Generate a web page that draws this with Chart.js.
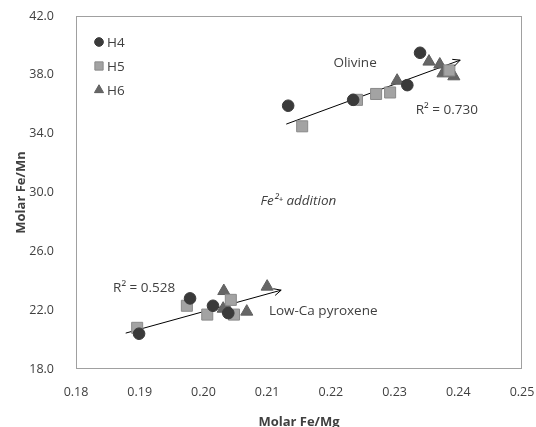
<!DOCTYPE html>
<html>
<head>
<meta charset="utf-8">
<script src="https://cdn.jsdelivr.net/npm/chart.js@4"></script>
<style>
  html, body { margin: 0; padding: 0; background: #fff; }
  #wrap { width: 536px; height: 427px; }
</style>
</head>
<body>
<div id="wrap"><canvas id="grafico"></canvas></div>
<script>
// datos
const h4_x = [0.2133, 0.2235, 0.2320, 0.2340, 0.1899, 0.1979, 0.2015, 0.2039];
const h4_y = [35.9, 36.3, 37.3, 39.5, 20.4, 22.8, 22.3, 21.8];

const h5_x = [0.2155, 0.2241, 0.2271, 0.2293, 0.2386, 0.1896, 0.1974, 0.2006, 0.2043, 0.2048];
const h5_y = [34.5, 36.3, 36.7, 36.8, 38.3, 20.8, 22.3, 21.7, 22.7, 21.7];

const h6_x = [0.2304, 0.2354, 0.2371, 0.2376, 0.2393, 0.2032, 0.2031, 0.2039, 0.2068, 0.2100];
const h6_y = [37.6, 38.9, 38.7, 38.1, 37.9, 23.3, 22.1, 22.0, 21.9, 23.6];

// lineas de tendencia (inicio, fin con flecha)
const olivino_x = [0.2130, 0.2403];
const olivino_y = [34.65, 39.0];
const piroxeno_x = [0.1878, 0.2122];
const piroxeno_y = [20.44, 23.36];

const ticks_x = [0.18, 0.19, 0.20, 0.21, 0.22, 0.23, 0.24, 0.25];
const ticks_y = [18, 22, 26, 30, 34, 38, 42];

const etiquetas = [
    { texto: 'Olivine', x: 0.2238, y: 38.8, italica: false },
    { texto: 'R\u00B2 = 0.730', x: 0.2382, y: 35.6, italica: false },
    { texto: 'Fe\u00B2\u207A addition', x: 0.2149, y: 29.4, italica: true },
    { texto: 'R\u00B2 = 0.528', x: 0.1907, y: 23.5, italica: false },
    { texto: 'Low-Ca pyroxene', x: 0.2188, y: 21.9, italica: false }
];

const FUENTE = "'Open Sans', 'Liberation Sans', sans-serif";
const GRIS_TEXTO = '#404040';

function puntos(xs, ys) {
    return xs.map((x, i) => ({ x: x, y: ys[i] }));
}

const series = [
    { label: 'H4', data: puntos(h4_x, h4_y), pointStyle: 'circle', pointRadius: 5.8,
      backgroundColor: '#3a3a3a', borderColor: '#3a3a3a' },
    { label: 'H5', data: puntos(h5_x, h5_y), pointStyle: 'rect', pointRadius: 7.8,
      backgroundColor: '#a3a3a3', borderColor: '#8a8a8a' },
    { label: 'H6', data: puntos(h6_x, h6_y), pointStyle: 'triangle', pointRadius: 7,
      backgroundColor: '#666666', borderColor: '#5e5e5e' }
];

const tendencias = [
    { label: 'tend1', data: puntos(olivino_x, olivino_y) },
    { label: 'tend2', data: puntos(piroxeno_x, piroxeno_y) }
];

const datasets = series.map(s => Object.assign({ borderWidth: 1, pointHoverRadius: s.pointRadius }, s));
tendencias.forEach(t => {
    datasets.push({
        label: t.label,
        data: t.data,
        showLine: true,
        borderColor: '#000',
        borderWidth: 1,
        pointRadius: 0,
        fill: false
    });
});

// marco, flechas, textos y leyenda
const extras = {
    id: 'extras',
    afterDatasetsDraw(chart) {
        const ctx = chart.ctx;
        const area = chart.chartArea;
        const sx = chart.scales.x;
        const sy = chart.scales.y;
        ctx.save();

        // flechas al final de cada tendencia
        tendencias.forEach(t => {
            const p0 = t.data[0];
            const p1 = t.data[t.data.length - 1];
            const x0 = sx.getPixelForValue(p0.x), y0 = sy.getPixelForValue(p0.y);
            const x1 = sx.getPixelForValue(p1.x), y1 = sy.getPixelForValue(p1.y);
            const ang = Math.atan2(y1 - y0, x1 - x0);
            const largo = 8;
            ctx.strokeStyle = '#000';
            ctx.lineWidth = 1;
            ctx.beginPath();
            ctx.moveTo(x1 - largo * Math.cos(ang - 0.45), y1 - largo * Math.sin(ang - 0.45));
            ctx.lineTo(x1, y1);
            ctx.lineTo(x1 - largo * Math.cos(ang + 0.45), y1 - largo * Math.sin(ang + 0.45));
            ctx.stroke();
        });

        // textos
        ctx.fillStyle = GRIS_TEXTO;
        ctx.textAlign = 'center';
        ctx.textBaseline = 'middle';
        etiquetas.forEach(e => {
            ctx.font = (e.italica ? 'italic ' : '') + '13.5px ' + FUENTE;
            ctx.fillText(e.texto, sx.getPixelForValue(e.x), sy.getPixelForValue(e.y));
        });

        // leyenda
        ctx.textAlign = 'left';
        ctx.font = '13.5px ' + FUENTE;
        series.forEach((s, i) => {
            const cx = area.left + 23;
            const cy = area.top + 26 + i * 24;
            ctx.fillStyle = s.backgroundColor;
            ctx.strokeStyle = s.borderColor;
            Chart.helpers.drawPoint(ctx, { pointStyle: s.pointStyle, radius: s.pointRadius * 0.75, borderWidth: 1 }, cx, cy);
            ctx.fillStyle = GRIS_TEXTO;
            ctx.fillText(s.label, cx + 8, cy + 1);
        });

        // marco del area
        ctx.strokeStyle = '#a0a0a0';
        ctx.lineWidth = 1;
        ctx.strokeRect(Math.round(area.left) + 0.5, Math.round(area.top) + 0.5,
            Math.round(area.width) - 1, Math.round(area.height) - 1);
        ctx.restore();
    }
};

new Chart(document.getElementById('grafico'), {
    type: 'scatter',
    data: { datasets: datasets },
    options: {
        responsive: true,
        maintainAspectRatio: false,
        animation: false,
        layout: { padding: { top: 16, right: 14, left: 0, bottom: 0 } },
        plugins: {
            legend: { display: false },
            tooltip: { enabled: false }
        },
        scales: {
            x: {
                type: 'linear',
                min: 0.18,
                max: 0.25,
                afterBuildTicks: (scale) => { scale.ticks = ticks_x.map(v => ({ value: v })); },
                afterFit: (scale) => {
                    scale.height = 58;
                    scale.paddingLeft = 0;
                    scale.paddingRight = 0;
                },
                grid: { display: false },
                border: { display: false },
                ticks: {
                    padding: 8,
                    color: GRIS_TEXTO,
                    font: { family: FUENTE, size: 12.5 },
                    callback: (v) => Number(v).toFixed(2)
                },
                title: {
                    display: true,
                    text: 'Molar Fe/Mg',
                    color: GRIS_TEXTO,
                    font: { family: FUENTE, size: 13, weight: 'bold' },
                    padding: { top: 0, bottom: -3 }
                }
            },
            y: {
                type: 'linear',
                min: 18,
                max: 42,
                afterBuildTicks: (scale) => { scale.ticks = ticks_y.map(v => ({ value: v })); },
                afterFit: (scale) => {
                    scale.width = 76;
                    scale.paddingTop = 0;
                    scale.paddingBottom = 0;
                },
                grid: { display: false },
                border: { display: false },
                ticks: {
                    padding: 14,
                    color: GRIS_TEXTO,
                    font: { family: FUENTE, size: 12.5 },
                    callback: (v) => Number(v).toFixed(1)
                },
                title: {
                    display: true,
                    text: 'Molar Fe/Mn',
                    color: GRIS_TEXTO,
                    font: { family: FUENTE, size: 13, weight: 'bold' },
                    padding: { top: 13, bottom: 0 }
                }
            }
        }
    },
    plugins: [extras]
});
</script>
</body>
</html>
